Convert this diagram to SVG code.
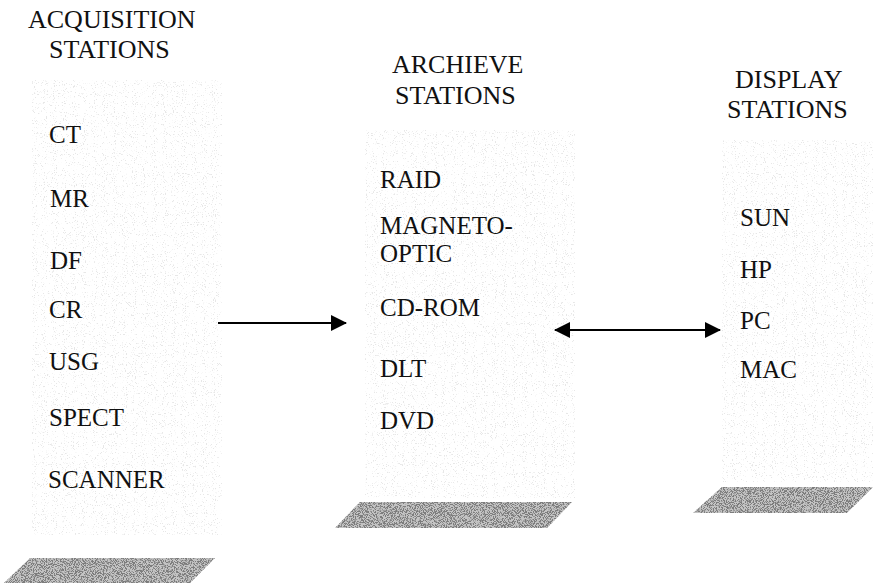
<svg xmlns="http://www.w3.org/2000/svg" width="875" height="586" viewBox="0 0 875 586">
  <style>
    .t { font-family: "Liberation Serif", "Times New Roman", serif; font-size: 25px; fill: #111; }
    .h { font-family: "Liberation Serif", "Times New Roman", serif; font-size: 26px; fill: #111; }
    .col { fill: #ffffff; filter: url(#light); }
    .base { fill: #c4c4c4; }
    .baseSpeck { fill: #ffffff; filter: url(#dark); }
    .conn { stroke: #000; stroke-width: 2; fill: none; }
  </style>
  <defs>
    <filter id="light" x="0" y="0" width="100%" height="100%">
      <feTurbulence type="fractalNoise" baseFrequency="0.9" numOctaves="2" seed="4" result="n"/>
      <feColorMatrix in="n" type="matrix" values="0 0 0 0 0.6  0 0 0 0 0.6  0 0 0 0 0.6  10 0 0 0 -6.2" result="d"/>
      <feComposite in="d" in2="SourceGraphic" operator="in"/>
    </filter>
    <filter id="dark" x="0" y="0" width="100%" height="100%">
      <feTurbulence type="fractalNoise" baseFrequency="1.1" numOctaves="2" seed="7" result="n"/>
      <feColorMatrix in="n" type="matrix" values="0 0 0 0 0.2  0 0 0 0 0.2  0 0 0 0 0.2  9 0 0 0 -4.2" result="d"/>
      <feComposite in="d" in2="SourceGraphic" operator="in"/>
    </filter>
    <marker id="ah" viewBox="0 0 16 16" refX="15" refY="8" markerWidth="16" markerHeight="16" markerUnits="userSpaceOnUse" orient="auto-start-reverse">
      <path d="M0,0 L16,8 L0,16 Z" fill="#000"/>
    </marker>
  </defs>

  <g id="acquisition">
    <rect class="col" x="32" y="80" width="190" height="455" opacity="0.45"/>
    <polygon class="base" points="30,558 215,558 190,583 4,583"/>
    <polygon class="baseSpeck" points="30,558 215,558 190,583 4,583"/>
    <text class="h" x="28" y="28">ACQUISITION</text>
    <text class="h" x="49" y="58">STATIONS</text>
    <text class="t" x="49" y="143">CT</text>
    <text class="t" x="50" y="207">MR</text>
    <text class="t" x="50" y="269">DF</text>
    <text class="t" x="49" y="318">CR</text>
    <text class="t" x="49" y="370">USG</text>
    <text class="t" x="49" y="426">SPECT</text>
    <text class="t" x="48" y="488">SCANNER</text>
  </g>

  <g id="archive">
    <rect class="col" x="365" y="130" width="210" height="368" opacity="0.45"/>
    <polygon class="base" points="360,502 572,502 547,528 335,528"/>
    <polygon class="baseSpeck" points="360,502 572,502 547,528 335,528"/>
    <text class="h" x="392" y="73">ARCHIEVE</text>
    <text class="h" x="395" y="104">STATIONS</text>
    <text class="t" x="380" y="188">RAID</text>
    <text class="t" x="380" y="234">MAGNETO-</text>
    <text class="t" x="380" y="262">OPTIC</text>
    <text class="t" x="380" y="316">CD-ROM</text>
    <text class="t" x="380" y="377">DLT</text>
    <text class="t" x="380" y="429">DVD</text>
  </g>

  <g id="display">
    <rect class="col" x="722" y="140" width="151" height="342" opacity="0.45"/>
    <polygon class="base" points="722,487 873,487 847,513 693,513"/>
    <polygon class="baseSpeck" points="722,487 873,487 847,513 693,513"/>
    <text class="h" x="735" y="88">DISPLAY</text>
    <text class="h" x="727" y="118">STATIONS</text>
    <text class="t" x="740" y="226">SUN</text>
    <text class="t" x="740" y="278">HP</text>
    <text class="t" x="740" y="329">PC</text>
    <text class="t" x="740" y="378">MAC</text>
  </g>

  <g id="connectors">
    <line class="conn" x1="218" y1="323" x2="346" y2="323" marker-end="url(#ah)"/>
    <line class="conn" x1="555" y1="330" x2="720" y2="330" marker-start="url(#ah)" marker-end="url(#ah)"/>
  </g>
</svg>
